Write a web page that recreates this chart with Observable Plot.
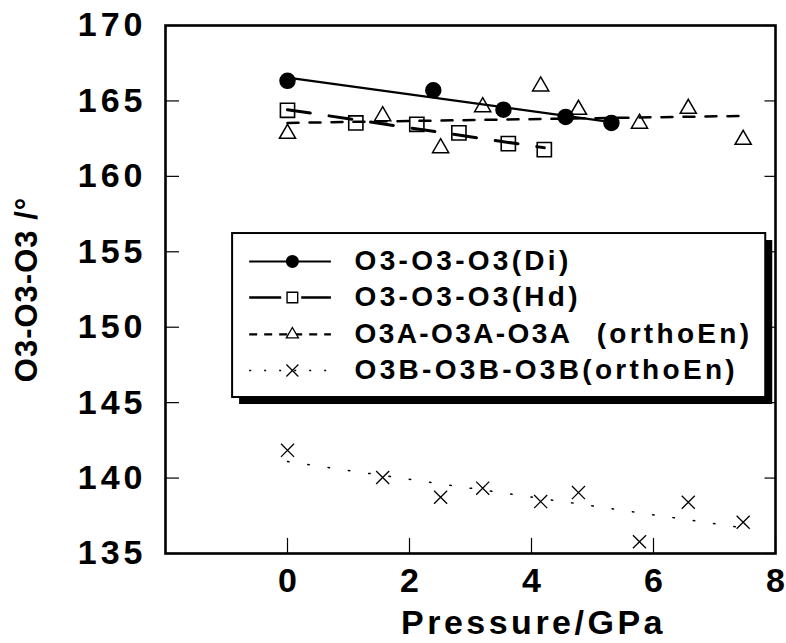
<!DOCTYPE html>
<html>
<head>
<meta charset="utf-8">
<script src="https://cdn.jsdelivr.net/npm/d3@7"></script>
<script src="https://cdn.jsdelivr.net/npm/@observablehq/plot@0.6"></script>
<style>
  html, body { margin: 0; padding: 0; background: #fff; }
  #chart svg { display: block; }
  g[aria-description="tick-label"] text { letter-spacing: 4px; }
  g[aria-description="x-label"] text { letter-spacing: 3.5px; }
  g[aria-description="y-label"] text { letter-spacing: 1px; }
  g[aria-description="legend-text"] text { letter-spacing: 3.3px; }
  g[aria-description="legend-text-narrow"] text { letter-spacing: 2.4px; }
</style>
</head>
<body>
<div id="chart"></div>
<script>
// ---- data ----
const pressureDi = [0, 2.39, 3.54, 4.56, 5.31];
const angleDi    = [166.33, 165.71, 164.42, 163.94, 163.54];

const pressureHd = [0, 1.12, 2.12, 2.81, 3.62, 4.21];
const angleHd    = [164.38, 163.54, 163.45, 162.88, 162.17, 161.77];

const pressureEn = [0, 1.56, 2.51, 3.2, 4.15, 4.77, 5.77, 6.57, 7.47];
const angleEnA   = [162.83, 164.0, 161.88, 164.6, 165.97, 164.42, 163.5, 164.49, 162.43];
const angleEnB   = [141.84, 140.04, 138.73, 139.33, 138.44, 139.04, 135.78, 138.4, 137.07];

const seriesNames = ["O3-O3-O3(Di)", "O3-O3-O3(Hd)", "O3A-O3A-O3A", "O3B-O3B-O3B(orthoEn)"];
const row3Suffix = "(orthoEn)";

const xTicks = [0, 2, 4, 6, 8];
const yTicks = [135, 140, 145, 150, 155, 160, 165, 170];
const xLabel = "Pressure/GPa";
const yLabel = "O3-O3-O3 /°";

// ---- layout (not data) ----
const xDomain = [-2, 8];
const yDomain = [135, 170];
const legendRowsY = [154.36, 151.97, 149.52, 147.13];
const L = {x1: -0.9, x2: 7.84, y1: 145.34, y2: 156.21,
           lineX1: -0.62, lineX2: 0.72, symbolX: 0.08, textX: 1.1, suffixX: 7.62};
const tickLenX = 0.23;   // GPa
const tickLenY = 1.0;    // degrees

const toRows = (xs, ys) => xs.map((x, i) => ({x, y: ys[i]}));
const di = toRows(pressureDi, angleDi);
const hd = toRows(pressureHd, angleHd);
const enA = toRows(pressureEn, angleEnA);
const enB = toRows(pressureEn, angleEnB);

const font = "'Liberation Sans', Arial, Helvetica, sans-serif";
const legendIdx = seriesNames.map((_, i) => i);

const chart = Plot.plot({
  width: 786,
  height: 643,
  marginTop: 25,
  marginBottom: 90,
  marginLeft: 165,
  marginRight: 11,
  style: {fontFamily: font, fontWeight: "bold", background: "white", color: "black", overflow: "visible"},
  x: {domain: xDomain, axis: null},
  y: {domain: yDomain, axis: null},
  marks: [
    // inward ticks
    Plot.ruleY(yTicks, {x1: xDomain[0], x2: xDomain[0] + tickLenX, stroke: "black", strokeWidth: 1.2}),
    Plot.ruleY(yTicks, {x1: xDomain[1] - tickLenX * 0.75, x2: xDomain[1], stroke: "black", strokeWidth: 1.2}),
    Plot.ruleX(xTicks, {y1: yDomain[0], y2: yDomain[0] + tickLenY, stroke: "black", strokeWidth: 1.2}),
    // tick labels
    Plot.text(xTicks, {x: d => d, text: d => String(d), frameAnchor: "bottom", lineAnchor: "top",
      dy: 14, fontSize: 34, fontWeight: "bold", ariaDescription: "xtick-label"}),
    Plot.text(yTicks, {y: d => d, text: d => String(d), frameAnchor: "left", textAnchor: "end",
      dx: -19, fontSize: 34, fontWeight: "bold", ariaDescription: "tick-label"}),
    // axis labels
    Plot.text([xLabel], {x: d3.mean(d3.extent(xTicks)), frameAnchor: "bottom", lineAnchor: "bottom",
      dy: 80, dx: 2, fontSize: 34, fontWeight: "bold", ariaDescription: "x-label"}),
    Plot.text([yLabel], {frameAnchor: "left", textAnchor: "middle", rotate: -90, dx: -138, fontSize: 31,
      fontWeight: "bold", ariaDescription: "y-label"}),

    // series lines (least-squares fits)
    Plot.linearRegressionY(di, {x: "x", y: "y", ci: 0, stroke: "black", strokeWidth: 2.2}),
    Plot.linearRegressionY(hd, {x: "x", y: "y", ci: 0, stroke: "black", strokeWidth: 3, strokeDasharray: "23,19"}),
    Plot.linearRegressionY(enA, {x: "x", y: "y", ci: 0, stroke: "black", strokeWidth: 2.5, strokeDasharray: "11,11"}),
    Plot.linearRegressionY(enB, {x: "x", y: "y", ci: 0, stroke: "black", strokeWidth: 1.5, strokeDasharray: "1.5,19"}),
    // series symbols
    Plot.dot(di, {x: "x", y: "y", r: 7.5, fill: "black", stroke: "black"}),
    Plot.dot(hd, {x: "x", y: "y", symbol: "square", r: 8, fill: "none", stroke: "black", strokeWidth: 1.6}),
    Plot.dot(enA, {x: "x", y: "y", symbol: "triangle", r: 6, fill: "none", stroke: "black", strokeWidth: 1.5}),
    Plot.dot(enB, {x: "x", y: "y", symbol: "times", r: 6, fill: "none", stroke: "black", strokeWidth: 1.3}),

    // legend box with shadow
    Plot.rect([L], {x1: "x1", x2: "x2", y1: "y1", y2: "y2", fill: "black", dx: 7, dy: 7}),
    Plot.rect([L], {x1: "x1", x2: "x2", y1: "y1", y2: "y2", fill: "white", stroke: "black", strokeWidth: 2}),
    // legend line samples
    Plot.ruleY([legendRowsY[0]], {x1: L.lineX1, x2: L.lineX2, stroke: "black", strokeWidth: 2}),
    Plot.ruleY([legendRowsY[1]], {x1: L.lineX1, x2: L.lineX2, stroke: "black", strokeWidth: 2.5, strokeDasharray: "32,20"}),
    Plot.ruleY([legendRowsY[2]], {x1: L.lineX1, x2: L.lineX2, stroke: "black", strokeWidth: 2.2, strokeDasharray: "8,7"}),
    Plot.ruleY([legendRowsY[3]], {x1: L.lineX1, x2: L.lineX2, stroke: "black", strokeWidth: 1.5, strokeDasharray: "2,13"}),
    // legend symbols
    Plot.dot([legendRowsY[0]], {x: L.symbolX, y: d => d, r: 6.5, fill: "black"}),
    Plot.dot([legendRowsY[1]], {x: L.symbolX, y: d => d, symbol: "square", r: 6, fill: "none", stroke: "black", strokeWidth: 1.4}),
    Plot.dot([legendRowsY[2]], {x: L.symbolX, y: d => d, symbol: "triangle", r: 4.5, fill: "white", stroke: "black", strokeWidth: 1.3}),
    Plot.dot([legendRowsY[3]], {x: L.symbolX, y: d => d, symbol: "times", r: 5.5, stroke: "black", strokeWidth: 1.2}),
    // legend text
    Plot.text(legendIdx.filter(i => i !== 2), {x: L.textX, y: i => legendRowsY[i], text: i => seriesNames[i],
      textAnchor: "start", fontSize: 28, fontWeight: "bold", ariaDescription: "legend-text"}),
    Plot.text([2], {x: L.textX, y: i => legendRowsY[i], text: i => seriesNames[i],
      textAnchor: "start", fontSize: 28, fontWeight: "bold", ariaDescription: "legend-text-narrow"}),
    Plot.text([row3Suffix], {x: L.suffixX, y: legendRowsY[2], text: d => d, textAnchor: "end",
      fontSize: 28, fontWeight: "bold", ariaDescription: "legend-text"}),

    // frame
    Plot.frame({stroke: "black", strokeWidth: 2.6})
  ]
});

document.getElementById("chart").appendChild(chart);
</script>
</body>
</html>
